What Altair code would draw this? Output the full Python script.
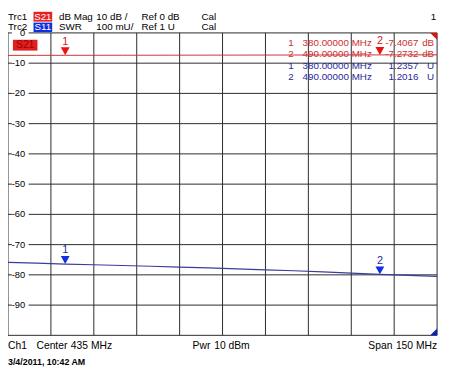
import altair as alt
import pandas as pd

# ---------------- data ----------------
freq_mhz = [360, 370, 380, 390, 400, 410, 420, 430, 440, 450, 460, 470, 480, 490, 500, 510]
s21_db = [-7.432, -7.420, -7.4067, -7.394, -7.382, -7.370, -7.358, -7.346,
          -7.334, -7.322, -7.310, -7.298, -7.286, -7.2732, -7.262, -7.250]
s11_swr = [1.2415, 1.2390, 1.2357, 1.2335, 1.2310, 1.2285, 1.2255, 1.2230,
           1.2200, 1.2165, 1.2135, 1.2100, 1.2060, 1.2016, 1.1985, 1.1950]

marker_ids = ["1", "2"]
marker_freq = [380, 490]
marker_s21 = [-7.4067, -7.2732]
marker_swr = [1.2357, 1.2016]

y_ticks = [0, -10, -20, -30, -40, -50, -60, -70, -80, -90]
y_grid = [0, -10, -20, -30, -40, -50, -60, -70, -80, -90, -100]
x_grid = [360, 375, 390, 405, 420, 435, 450, 465, 480, 495, 510]

# SWR trace scaling: 100 mU/div, Ref 1 U at the bottom line (-100 dB position)
SWR_REF, SWR_PER_DIV, DB_PER_DIV, REF_POS = 1.0, 0.1, 10.0, -100.0


def swr_to_grid(v):
    return REF_POS + (v - SWR_REF) / SWR_PER_DIV * DB_PER_DIV


FONT = "Liberation Sans, Arial, sans-serif"
RED_TR = "#cc3333"
BLUE_TR = "#3c3c9c"
RED_MK = "#ee1111"
BLUE_MK = "#1030e0"
GRID = "#2a2a2a"

xs = alt.Scale(domain=[360, 510], nice=False, zero=False)
ys = alt.Scale(domain=[-100, 0], nice=False, zero=False)

trace = pd.DataFrame({"f": freq_mhz, "s21": s21_db,
                      "s11": [swr_to_grid(v) for v in s11_swr]})
mk21 = pd.DataFrame({"id": marker_ids, "f": marker_freq, "v": marker_s21})
mk11 = pd.DataFrame({"id": marker_ids, "f": marker_freq,
                     "v": [swr_to_grid(v) for v in marker_swr]})
ylab = pd.DataFrame({"v": y_ticks, "lab": [str(v) for v in y_ticks]})

X = lambda field: alt.X(field, type="quantitative", scale=xs, axis=None)
Y = lambda field: alt.Y(field, type="quantitative", scale=ys, axis=None)

one = alt.Data(values=[{"k": 0}])


def label(text, x, y, size=10, color="#000", align="left", weight="normal", font=FONT):
    return alt.Chart(one).mark_text(
        text=text, align=align, baseline="middle", fontSize=size, color=color,
        font=font, fontWeight=weight
    ).encode(x=alt.value(x), y=alt.value(y))


def box(x1, x2, y1, y2, color):
    return alt.Chart(one).mark_rect(color=color).encode(
        x=alt.value(x1), x2=alt.value(x2), y=alt.value(y1), y2=alt.value(y2))


layers = []

# grid
layers.append(alt.Chart(pd.DataFrame({"v": y_grid})).mark_rule(color=GRID, strokeWidth=1).encode(y=Y("v")))
layers.append(alt.Chart(pd.DataFrame({"v": x_grid})).mark_rule(color=GRID, strokeWidth=1).encode(x=X("v")))

# y labels with white background
rect_path = "M -1 -0.55 L 1 -0.55 L 1 0.55 L -1 0.55 Z"
layers.append(alt.Chart(ylab).mark_point(shape=rect_path, filled=True, color="white", opacity=1,
                                         size=289, strokeWidth=0).encode(x=alt.value(12.5), y=Y("v")))
layers.append(alt.Chart(ylab).mark_text(align="right", baseline="middle", fontSize=9.5, color="#000",
                                        font=FONT).encode(x=alt.value(17.5), y=Y("v"), text="lab:N"))

# traces
layers.append(alt.Chart(trace).mark_line(color=RED_TR, strokeWidth=1, clip=True).encode(x=X("f"), y=Y("s21")))
layers.append(alt.Chart(trace).mark_line(color=BLUE_TR, strokeWidth=1.2, clip=True).encode(x=X("f"), y=Y("s11")))

# markers
tri = "M -1 -1.8 L 1 -1.8 L 0 0 Z"
for df, col, tcol in [(mk21, RED_MK, "#cc2222"), (mk11, BLUE_MK, "#2a2a9a")]:
    layers.append(alt.Chart(df).mark_point(shape=tri, filled=True, color=col, opacity=1, size=81,
                                           strokeWidth=0).encode(x=X("f"), y=Y("v")))
    layers.append(alt.Chart(df).mark_text(dy=-14, fontSize=11, color=tcol, font=FONT,
                                          baseline="middle").encode(x=X("f"), y=Y("v"), text="id:N"))

# corner triangles
layers.append(alt.Chart(pd.DataFrame({"f": [510], "v": [0]})).mark_point(
    shape="M 0 0 L -1 0 L 0 1 Z", filled=True, color="#e01010", opacity=1, size=196, strokeWidth=0
).encode(x=X("f"), y=Y("v")))
layers.append(alt.Chart(pd.DataFrame({"f": [510], "v": [-100]})).mark_point(
    shape="M 0 0 L -1 0 L 0 -1 Z", filled=True, color="#1020c0", opacity=1, size=196, strokeWidth=0
).encode(x=X("f"), y=Y("v")))

# S21 trace tag inside the diagram
layers.append(box(5, 30, 7, 18, "#e02020"))
layers.append(label("S21", 17.5, 12.5, size=10.5, color="#9a0000", align="center"))

# marker table
rows = []
for i, m in enumerate(marker_ids):
    rows.append((m, f"{marker_freq[i]:.5f}", f"{marker_s21[i]:.4f}", "dB", "#cc3030"))
for i, m in enumerate(marker_ids):
    rows.append((m, f"{marker_freq[i]:.5f}", f"{marker_swr[i]:.4f}", "U", "#2a2a9a"))
row_y = [10.5, 22, 33.5, 45]
for (m, ftxt, vtxt, unit, c), yy in zip(rows, row_y):
    layers.append(label(m, 291, yy, color=c, align="right"))
    layers.append(label(ftxt, 300, yy, color=c))
    layers.append(label("MHz", 350, yy, color=c))
    layers.append(label(vtxt, 418, yy, color=c, align="right"))
    layers.append(label(unit, 434, yy, color=c, align="right"))

# header (view y=0 is page y=30)
r1, r2 = -16.5, -5.5
layers.append(box(26, 45, -21.5, -11.5, "#e82020"))
layers.append(box(26, 45, -10.5, -0.8, "#1030e0"))
for txt, x in [("Trc1", 0), ("dB Mag", 52), ("10 dB /", 90), ("Ref 0 dB", 136), ("Cal", 197)]:
    layers.append(label(txt, x, r1))
for txt, x in [("Trc2", 0), ("SWR", 52), ("100 mU/", 90), ("Ref 1 U", 136), ("Cal", 197)]:
    layers.append(label(txt, x, r2))
layers.append(label("S21", 35.5, r1, color="white", align="center"))
layers.append(label("S11", 35.5, r2, color="white", align="center"))
layers.append(label("1", 436, r1, align="right"))

# footer
fy = 318.5
layers.append(label("Ch1", 0, fy, size=10.5))
layers.append(label("Center", 29, fy, size=10.5))
layers.append(label("435 MHz", 64, fy, size=10.5))
layers.append(label("Pwr", 188, fy, size=10.5))
layers.append(label("10 dBm", 210, fy, size=10.5))
layers.append(label("Span", 367, fy, size=10.5))
layers.append(label("150 MHz", 437, fy, size=10.5, align="right"))
layers.append(label("3/4/2011, 10:42 AM", 0, 335, size=9, weight="bold", font=FONT))

chart = alt.layer(*layers).properties(
    width=437, height=308,
    autosize=alt.AutoSizeParams(type="none"),
    padding={"left": 0, "top": 22, "right": 5, "bottom": 36},
    background="white",
).configure_view(stroke=None)

chart.save("out.html", embed_options={"renderer": "svg", "actions": False})
